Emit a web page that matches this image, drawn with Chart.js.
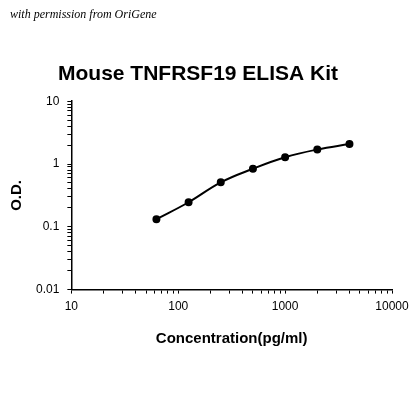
<!DOCTYPE html>
<html><head><meta charset="utf-8">
<script src="https://cdn.jsdelivr.net/npm/chart.js@4/dist/chart.umd.min.js"></script>
<style>
body{margin:0;background:#fff;}
#wrap{position:relative;width:420px;height:420px;}
#note{position:absolute;left:10px;top:7px;font:italic 12px "Liberation Serif",serif;color:#000;}
</style></head>
<body>
<div id="wrap"><div id="note">with permission from OriGene</div><canvas id="elisa" width="420" height="420"></canvas></div>
<script>
var concentrations = [62.5, 125, 250, 500, 1000, 2000, 4000];
var odValues = [0.132, 0.246, 0.51, 0.84, 1.28, 1.7, 2.08];
var xTicks = [10, 100, 1000, 10000];
var yTicks = [0.01, 0.1, 1, 10];

function allTicks(lo, hi) {
  var t = [];
  for (var d = lo; d < hi; d *= 10) for (var k = 1; k < 10; k++) t.push({value: +(d * k).toPrecision(3)});
  t.push({value: hi});
  return t;
}
function isMajor(v, list) { return list.some(function (m) { return Math.abs(m - v) / m < 1e-6; }); }

var chart = new Chart(document.getElementById("elisa"), {
  type: 'line',
  data: {
    datasets: [{
      data: concentrations.map(function (c, i) { return {x: c, y: odValues[i]}; }),
      borderColor: '#000', backgroundColor: '#000',
      borderWidth: 2, pointRadius: 3, tension: 0.4, fill: false
    }]
  },
  options: {
    responsive: false, animation: false,
    layout: {padding: {left: 4, right: 28, top: 8, bottom: 68}},
    plugins: {
      legend: {display: false},
      tooltip: {enabled: false},
      title: {display: true, text: 'Mouse TNFRSF19 ELISA Kit', color: '#000',
        font: {family: 'Liberation Sans', size: 21, weight: 'bold'}, padding: {top: 54, bottom: 14}}
    },
    scales: {
      x: {
        type: 'logarithmic', min: 10, max: 10000,
        afterBuildTicks: function (s) { s.ticks = allTicks(10, 10000); },
        ticks: {color: '#000', font: {family: 'Liberation Sans', size: 12}, autoSkip: false, maxRotation: 0, padding: 6,
          callback: function (v) { return isMajor(v, xTicks) ? String(v) : ''; }},
        grid: {drawOnChartArea: false, color: '#000', tickLength: 4},
        border: {color: '#000', width: 1.5},
        title: {display: true, text: 'Concentration(pg/ml)', color: '#000',
          font: {family: 'Liberation Sans', size: 15, weight: 'bold'}, padding: {top: 10}}
      },
      y: {
        type: 'logarithmic', min: 0.01, max: 10,
        afterBuildTicks: function (s) { s.ticks = allTicks(0.01, 10); },
        ticks: {color: '#000', font: {family: 'Liberation Sans', size: 12}, autoSkip: false, padding: 8,
          callback: function (v) { return isMajor(v, yTicks) ? String(v) : ''; }},
        grid: {drawOnChartArea: false, color: '#000', tickLength: 4},
        border: {color: '#000', width: 1.5},
        title: {display: true, text: 'O.D.', color: '#000',
          font: {family: 'Liberation Sans', size: 15, weight: 'bold'}, padding: {bottom: 2}}
      }
    }
  }
});
</script>
</body></html>
